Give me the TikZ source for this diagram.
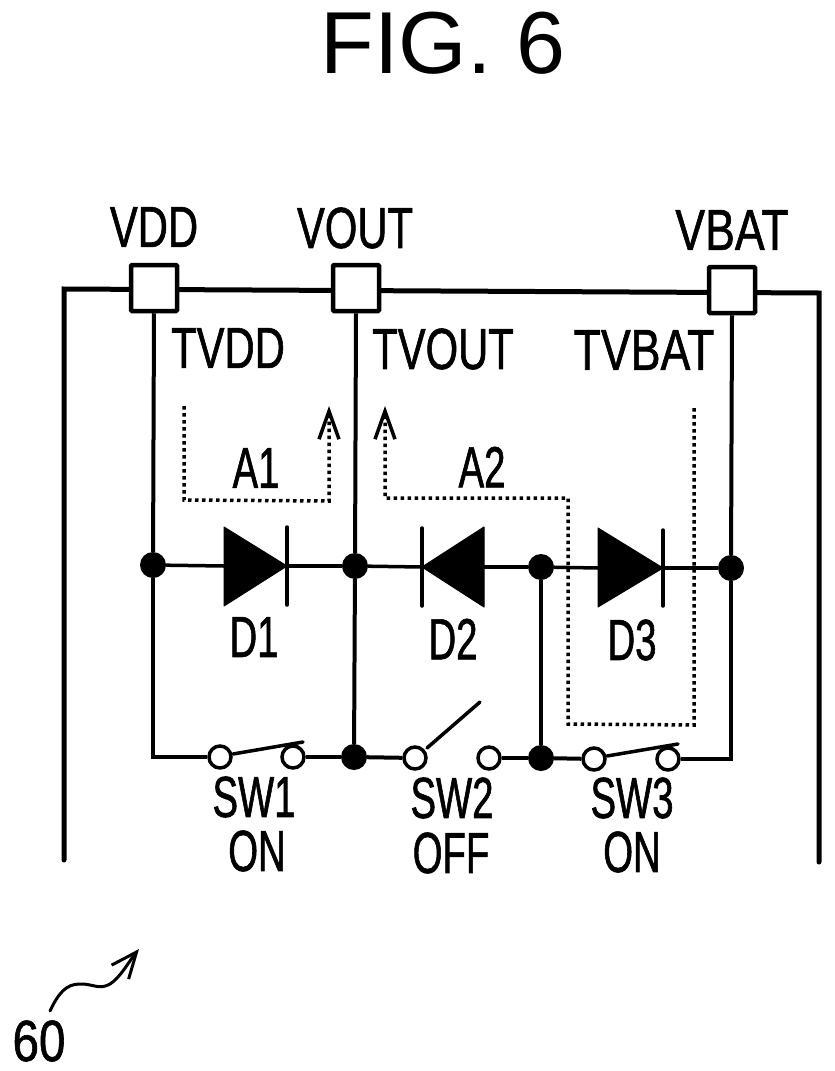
\documentclass[tikz,border=0pt]{standalone}
\usepackage{fontspec}
\usetikzlibrary{arrows.meta}
\setmainfont{Liberation Sans}
\newfontfamily\narrowfont[FakeStretch=0.66,FakeBold=1]{Liberation Sans}
\newfontfamily\midfont[FakeStretch=0.72,FakeBold=1]{Liberation Sans}
\newfontfamily\broadfont[FakeStretch=0.77,FakeBold=1]{Liberation Sans}
\newfontfamily\numfont[FakeStretch=0.82,FakeBold=1]{Liberation Sans}
\tikzset{
  x=1pt,y=-1pt,
  lab/.style={inner sep=0pt,font=\narrowfont\fontsize{58}{58}\selectfont},
  labm/.style={inner sep=0pt,font=\midfont\fontsize{58}{58}\selectfont},
  labb/.style={inner sep=0pt,font=\broadfont\fontsize{58}{58}\selectfont},
  labn/.style={inner sep=0pt,font=\numfont\fontsize{58}{58}\selectfont},
  terminal/.style={draw,fill=white,line width=4.5pt,rounded corners=1pt,minimum size=46pt,inner sep=0pt},
  junction/.style={circle,fill=black,minimum size=26pt,inner sep=0pt},
  contact/.style={circle,draw,fill=white,line width=3.5pt,minimum size=22pt,inner sep=0pt},
  rail/.style={line width=5pt,line cap=round,line join=miter},
  wire/.style={line width=4pt,line join=miter},
  thinwire/.style={line width=3.5pt},
  arm/.style={line width=3.5pt,line cap=round},
  bar/.style={line width=3.5pt,line cap=round},
  flow/.style={line width=3.5pt,dash pattern=on 3.5pt off 3.5pt},
  flowtip/.style={-{Straight Barb[length=28pt,width=20pt,line width=3.5pt]}},
  dio/.style={fill=black,draw=black,line width=1pt,line join=round},
}
\begin{document}
\begin{tikzpicture}
\useasboundingbox (0,0) rectangle (835,1071);

% title
\node[inner sep=0pt,font=\fontsize{88}{88}\selectfont] (title) at (443,43) {FIG. 6};

% rails
\coordinate (lb) at (64,860);
\coordinate (lt) at (64,289);
\coordinate (rt) at (819,293);
\coordinate (rb) at (819,862);
\draw[rail] (lb) -- (lt) -- (rt) -- (rb);

% terminals
\node[terminal] (tvdd) at (154,288) {};
\node[terminal] (tvout) at (356,288) {};
\node[terminal] (tvbat) at (732,290) {};

% junctions
\node[junction] (j1) at (153,565) {};
\node[junction] (j2) at (355,566) {};
\node[junction] (j3) at (541,567) {};
\node[junction] (j4) at (731,568) {};
\node[junction] (j5) at (354,757) {};
\node[junction] (j6) at (541,758) {};

% switch contacts
\node[contact] (s1a) at (220,757) {};
\node[contact] (s1b) at (293,757) {};
\node[contact] (s2a) at (415,758) {};
\node[contact] (s2b) at (489,758) {};
\node[contact] (s3a) at (594,759) {};
\node[contact] (s3b) at (668,759) {};

% corners and diode points
\coordinate (blc) at (153,757);
\coordinate (brc) at (731,759);
\coordinate (d1a) at (224,566);
\coordinate (d1k) at (287,566);
\coordinate (d2a) at (484,567);
\coordinate (d2k) at (422,567);
\coordinate (d3a) at (598,568);
\coordinate (d3k) at (663,568);

% vertical wires
\draw[wire] (tvdd.south) -- (j1);
\draw[wire] (j1) -- (blc) -- (s1a);
\draw[wire] (tvout.south) -- (j2);
\draw[wire] (j2) -- (j5);
\draw[wire] (j3) -- (j6);
\draw[wire] (tvbat.south) -- (j4);
\draw[wire] (j4) -- (brc) -- (s3b);

% horizontal wires
\draw[thinwire] (j1) -- (d1a);
\draw[thinwire] (d1k) -- (j2);
\draw[thinwire] (j2) -- (d2k);
\draw[thinwire] (d2a) -- (j3);
\draw[thinwire] (j3) -- (d3a);
\draw[thinwire] (d3k) -- (j4);
\draw[wire] (s1b) -- (j5);
\draw[wire] (j5) -- (s2a);
\draw[wire] (s2b) -- (j6);
\draw[wire] (j6) -- (s3a);

% diodes
\draw[dio] (224,527) -- (287,566) -- (224,606) -- cycle;
\draw[bar] (287,527) -- (287,605);
\draw[dio] (484,527) -- (422,567) -- (484,607) -- cycle;
\draw[bar] (422,528) -- (422,606);
\draw[dio] (598,528) -- (663,568) -- (598,607) -- cycle;
\draw[bar] (663,530) -- (663,606);

% switch arms
\coordinate (a1a) at (233,754);
\coordinate (a1b) at (303,742);
\coordinate (a2a) at (427,748);
\coordinate (a2b) at (480,702);
\coordinate (a3a) at (607,756);
\coordinate (a3b) at (678,744);
\draw[arm] (a1a) -- (a1b);
\draw[arm] (a2a) -- (a2b);
\draw[arm] (a3a) -- (a3b);

% current paths
\coordinate (p1s) at (184,406);
\coordinate (p1c) at (184,500);
\coordinate (p1d) at (329,501);
\coordinate (p1e) at (329,406);
\draw[flow,flowtip] (p1s) -- (p1c) -- (p1d) -- (p1e);
\coordinate (p2s) at (694,408);
\coordinate (p2c) at (694,725);
\coordinate (p2d) at (568,724);
\coordinate (p2f) at (568,498);
\coordinate (p2g) at (385,498);
\coordinate (p2e) at (385,406);
\draw[flow,flowtip] (p2s) -- (p2c) -- (p2d) -- (p2f) -- (p2g) -- (p2e);

% labels
\node[labm] (lvdd) at (154,227) {VDD};
\node[labm] (lvout) at (355,228) {VOUT};
\node[labb] (lvbat) at (732,230) {VBAT};
\node[labm] (ltvdd) at (228,348) {TVDD};
\node[labm] (ltvout) at (443,349) {TVOUT};
\node[labb] (ltvbat) at (644,350) {TVBAT};
\node[lab] (la1) at (256,468) {A1};
\node[lab] (la2) at (482,467) {A2};
\node[lab] (ld1) at (254,637) {D1};
\node[lab] (ld2) at (453,639) {D2};
\node[lab] (ld3) at (632,640) {D3};
\node[lab] (lsw1) at (254,797) {SW1};
\node[lab] (lon1) at (257,851) {ON};
\node[lab] (lsw2) at (452,798) {SW2};
\node[lab] (loff) at (451,853) {OFF};
\node[lab] (lsw3) at (632,798) {SW3};
\node[lab] (lon3) at (632,852) {ON};
\node[labn] (l60) at (39,1041) {60};

% reference arrow
\coordinate (rs) at (50,1011);
\coordinate (re) at (139,949);
\draw[line width=3pt,line cap=round,-{Straight Barb[length=26pt,width=22pt,line width=3pt]}]
  (rs) .. controls (62,985) and (72,984) .. (82,984)
  .. controls (92,984) and (100,990) .. (110,984)
  .. controls (120,978) and (130,960) .. (re);
\end{tikzpicture}
\end{document}
